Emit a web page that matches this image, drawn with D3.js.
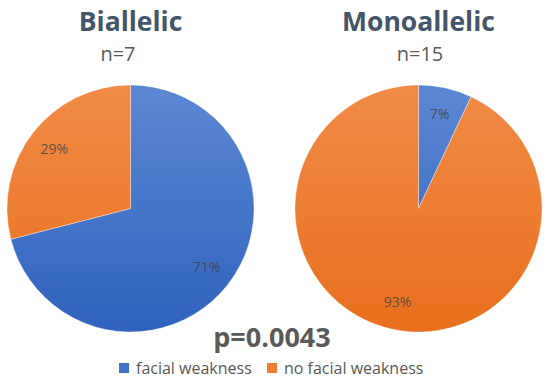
<!DOCTYPE html>
<html>
<head>
<meta charset="utf-8">
<script src="https://cdn.jsdelivr.net/npm/d3@7"></script>
<style>
  html, body { margin: 0; padding: 0; background: #fff; }
  svg { display: block; }
</style>
</head>
<body>
<svg id="chart"></svg>
<script>
// data
const categories = ['facial weakness', 'no facial weakness'];
const groups = ['Biallelic', 'Monoallelic'];
const groupN = ['n=7', 'n=15'];
const biallelicValues = [71, 29];
const monoallelicValues = [7, 93];
const pValueLabel = 'p=0.0043';

const width = 550, height = 382;
const svg = d3.select('#chart').attr('width', width).attr('height', height);

const colors = d3.scaleOrdinal().domain(categories).range(['#4472C4', '#ED7D31']);

const radius = 123.5;

// soft vertical gradients like the office chart fill (in pie-local coords)
const defs = svg.append('defs');
const grads = [
  { id: 'g-blue', top: '#5C88D3', bottom: '#3062BE' },
  { id: 'g-orange', top: '#F18B47', bottom: '#E86F1D' }
];
grads.forEach(g => {
  const lg = defs.append('linearGradient')
    .attr('id', g.id)
    .attr('gradientUnits', 'userSpaceOnUse')
    .attr('x1', 0).attr('y1', -radius).attr('x2', 0).attr('y2', radius);
  lg.append('stop').attr('offset', '0%').attr('stop-color', g.top);
  lg.append('stop').attr('offset', '100%').attr('stop-color', g.bottom);
});
const fillFor = i => i === 0 ? 'url(#g-blue)' : 'url(#g-orange)';

const pie = d3.pie().sort(null).value(d => d);
const arc = d3.arc().innerRadius(0).outerRadius(radius);
const labelArc = d3.arc().innerRadius(radius * 0.78).outerRadius(radius * 0.78);

const panels = [
  { title: groups[0], n: groupN[0], values: biallelicValues, cx: 130.5, nx: 118 },
  { title: groups[1], n: groupN[1], values: monoallelicValues, cx: 418.5, nx: 420 }
];
const cy = 208.5;
const font = '"Open Sans", "DejaVu Sans", sans-serif';

panels.forEach(p => {
  svg.append('text')
    .attr('x', p.cx).attr('y', 31)
    .attr('text-anchor', 'middle')
    .style('font-family', font)
    .style('font-weight', 700)
    .style('font-size', '26.5px')
    .style('fill', '#44546A')
    .text(p.title);

  svg.append('text')
    .attr('x', p.nx).attr('y', 61)
    .attr('text-anchor', 'middle')
    .style('font-family', font)
    .style('font-size', '20px')
    .style('fill', '#595959')
    .text(p.n);

  const g = svg.append('g').attr('transform', `translate(${p.cx},${cy})`);
  const arcs = pie(p.values);

  g.selectAll('path.slice')
    .data(arcs)
    .join('path')
    .attr('class', 'slice')
    .attr('d', arc)
    .attr('fill', (d, i) => fillFor(i))
    .attr('stroke', 'rgba(255,255,255,0.45)')
    .attr('stroke-width', 0.8);

  g.selectAll('text.pct')
    .data(arcs)
    .join('text')
    .attr('class', 'pct')
    .attr('transform', d => `translate(${labelArc.centroid(d)})`)
    .attr('text-anchor', 'middle')
    .attr('dy', '0.35em')
    .style('font-family', font)
    .style('font-size', '14px')
    .style('fill', '#404040')
    .style('fill-opacity', 0.8)
    .text(d => d.data + '%');
});

svg.append('text')
  .attr('x', 272).attr('y', 347)
  .attr('text-anchor', 'middle')
  .style('font-family', font)
  .style('font-weight', 700)
  .style('font-size', '27px')
  .style('fill', '#595959')
  .text(pValueLabel);

// legend
const legendX = [119, 267];
const legend = svg.append('g');
categories.forEach((c, i) => {
  const lg = legend.append('g').attr('transform', `translate(${legendX[i]},363)`);
  lg.append('rect').attr('width', 10).attr('height', 10).attr('fill', colors(c));
  lg.append('text')
    .attr('x', 17).attr('y', 11)
    .style('font-family', font)
    .style('font-size', '16px')
    .style('fill', '#595959')
    .text(c);
});
</script>
</body>
</html>
